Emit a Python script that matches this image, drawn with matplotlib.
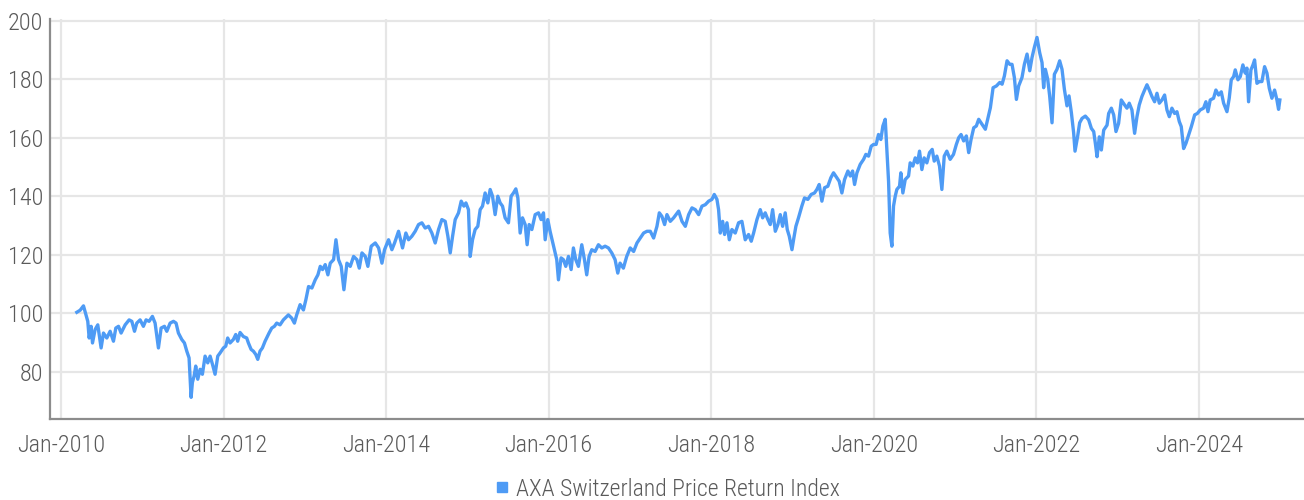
#!/usr/bin/env python3

import pandas as pd
import matplotlib
matplotlib.use('Agg')
import matplotlib.pyplot as plt
import matplotlib.dates as mdates
from matplotlib.lines import Line2D

# dates as decimal years, index level
dec_years = [
    2010.193, 2010.234, 2010.275, 2010.295, 2010.328, 2010.345, 2010.369, 2010.386, 2010.418, 2010.451,
    2010.492, 2010.521, 2010.562, 2010.603, 2010.644, 2010.673, 2010.706, 2010.738, 2010.788, 2010.837,
    2010.870, 2010.903, 2010.931, 2010.972, 2011.013, 2011.046, 2011.083, 2011.124, 2011.157, 2011.198,
    2011.231, 2011.272, 2011.301, 2011.342, 2011.383, 2011.415, 2011.444, 2011.485, 2011.518, 2011.547,
    2011.575, 2011.600, 2011.616, 2011.637, 2011.657, 2011.682, 2011.711, 2011.739, 2011.772, 2011.805,
    2011.834, 2011.863, 2011.895, 2011.928, 2011.957, 2011.998, 2012.027, 2012.051, 2012.080, 2012.121,
    2012.150, 2012.174, 2012.203, 2012.244, 2012.285, 2012.306, 2012.339, 2012.367, 2012.396, 2012.421,
    2012.449, 2012.478, 2012.511, 2012.560, 2012.593, 2012.626, 2012.654, 2012.695, 2012.736, 2012.798,
    2012.839, 2012.872, 2012.900, 2012.942, 2012.983, 2013.011, 2013.044, 2013.085, 2013.126, 2013.159,
    2013.188, 2013.216, 2013.249, 2013.282, 2013.311, 2013.352, 2013.381, 2013.413, 2013.446, 2013.479,
    2013.516, 2013.557, 2013.598, 2013.639, 2013.668, 2013.701, 2013.742, 2013.774, 2013.815, 2013.865,
    2013.906, 2013.947, 2013.979, 2014.029, 2014.070, 2014.103, 2014.152, 2014.201, 2014.242, 2014.275,
    2014.316, 2014.357, 2014.398, 2014.439, 2014.480, 2014.521, 2014.562, 2014.603, 2014.644, 2014.685,
    2014.726, 2014.759, 2014.788, 2014.817, 2014.849, 2014.890, 2014.923, 2014.956, 2014.981, 2015.013,
    2015.034, 2015.063, 2015.095, 2015.128, 2015.157, 2015.186, 2015.218, 2015.251, 2015.280, 2015.309,
    2015.341, 2015.374, 2015.403, 2015.432, 2015.464, 2015.505, 2015.538, 2015.567, 2015.596, 2015.621,
    2015.649, 2015.678, 2015.711, 2015.735, 2015.760, 2015.793, 2015.834, 2015.875, 2015.907, 2015.936,
    2015.957, 2015.989, 2016.018, 2016.047, 2016.071, 2016.100, 2016.121, 2016.153, 2016.182, 2016.211,
    2016.244, 2016.277, 2016.305, 2016.334, 2016.367, 2016.408, 2016.441, 2016.469, 2016.498, 2016.531,
    2016.572, 2016.613, 2016.654, 2016.695, 2016.736, 2016.777, 2016.818, 2016.851, 2016.879, 2016.920,
    2016.961, 2017.002, 2017.044, 2017.085, 2017.126, 2017.167, 2017.208, 2017.249, 2017.290, 2017.331,
    2017.360, 2017.392, 2017.425, 2017.454, 2017.495, 2017.536, 2017.598, 2017.639, 2017.680, 2017.721,
    2017.762, 2017.803, 2017.844, 2017.885, 2017.926, 2017.967, 2018.008, 2018.037, 2018.070, 2018.090,
    2018.111, 2018.140, 2018.164, 2018.193, 2018.222, 2018.254, 2018.295, 2018.336, 2018.377, 2018.418,
    2018.459, 2018.492, 2018.521, 2018.562, 2018.603, 2018.632, 2018.664, 2018.697, 2018.726, 2018.755,
    2018.788, 2018.820, 2018.849, 2018.878, 2018.910, 2018.935, 2018.960, 2018.993, 2019.017, 2019.042,
    2019.074, 2019.115, 2019.148, 2019.189, 2019.230, 2019.271, 2019.300, 2019.329, 2019.362, 2019.395,
    2019.435, 2019.472, 2019.505, 2019.546, 2019.575, 2019.608, 2019.641, 2019.682, 2019.711, 2019.740,
    2019.764, 2019.793, 2019.834, 2019.875, 2019.903, 2019.936, 2019.969, 2019.998, 2020.030, 2020.059,
    2020.088, 2020.113, 2020.142, 2020.170, 2020.183, 2020.203, 2020.224, 2020.244, 2020.265, 2020.285,
    2020.318, 2020.334, 2020.359, 2020.388, 2020.429, 2020.449, 2020.482, 2020.511, 2020.539, 2020.564,
    2020.593, 2020.621, 2020.654, 2020.687, 2020.720, 2020.745, 2020.777, 2020.810, 2020.839, 2020.868,
    2020.900, 2020.941, 2020.982, 2021.015, 2021.044, 2021.073, 2021.105, 2021.138, 2021.167, 2021.196,
    2021.229, 2021.261, 2021.290, 2021.331, 2021.372, 2021.401, 2021.434, 2021.467, 2021.508, 2021.549,
    2021.578, 2021.606, 2021.639, 2021.672, 2021.700, 2021.729, 2021.754, 2021.782, 2021.823, 2021.852,
    2021.885, 2021.918, 2021.946, 2021.975, 2022.008, 2022.041, 2022.070, 2022.090, 2022.111, 2022.140,
    2022.164, 2022.193, 2022.222, 2022.254, 2022.287, 2022.316, 2022.345, 2022.377, 2022.402, 2022.431,
    2022.459, 2022.476, 2022.509, 2022.533, 2022.562, 2022.603, 2022.644, 2022.677, 2022.706, 2022.726,
    2022.747, 2022.775, 2022.800, 2022.829, 2022.870, 2022.890, 2022.923, 2022.952, 2022.980, 2023.013,
    2023.046, 2023.087, 2023.116, 2023.144, 2023.177, 2023.210, 2023.239, 2023.267, 2023.300, 2023.333,
    2023.362, 2023.391, 2023.423, 2023.456, 2023.485, 2023.514, 2023.546, 2023.579, 2023.608, 2023.637,
    2023.669, 2023.702, 2023.731, 2023.760, 2023.784, 2023.813, 2023.842, 2023.875, 2023.908, 2023.949,
    2023.982, 2024.018, 2024.059, 2024.088, 2024.113, 2024.141, 2024.182, 2024.211, 2024.244, 2024.277,
    2024.306, 2024.347, 2024.375, 2024.400, 2024.429, 2024.449, 2024.482, 2024.511, 2024.543, 2024.572,
    2024.593, 2024.613, 2024.642, 2024.667, 2024.687, 2024.716, 2024.745, 2024.777, 2024.810, 2024.839,
    2024.868, 2024.900, 2024.933, 2024.962, 2024.982, 2024.998,
]

index_values = [
    100.3, 101.0, 102.5, 100.5, 97.2, 91.5, 95.5, 89.8, 94.4, 96.0,
    88.1, 93.2, 91.5, 93.8, 90.4, 94.9, 95.5, 93.2, 96.0, 97.7,
    97.2, 93.8, 96.6, 97.7, 95.5, 97.7, 97.2, 98.9, 96.6, 88.1,
    94.9, 95.5, 93.8, 96.6, 97.2, 96.6, 93.2, 91.0, 89.8, 87.0,
    84.7, 71.2, 76.3, 78.5, 81.9, 77.4, 80.8, 79.1, 85.3, 83.0,
    85.3, 82.5, 79.1, 85.3, 86.4, 88.1, 88.7, 91.5, 89.8, 91.0,
    92.7, 90.4, 93.4, 92.0, 91.5, 89.8, 87.6, 87.0, 85.9, 84.2,
    87.0, 88.1, 90.4, 93.2, 94.9, 95.5, 96.6, 96.0, 97.7, 99.4,
    98.3, 96.6, 99.4, 102.9, 101.1, 104.6, 109.1, 108.6, 111.4, 113.1,
    116.0, 114.9, 116.6, 113.1, 117.1, 118.3, 125.1, 118.3, 116.0, 108.0,
    117.1, 116.0, 119.4, 118.3, 115.4, 120.6, 119.4, 116.0, 122.9, 124.0,
    122.3, 117.1, 121.7, 125.1, 121.7, 124.0, 128.0, 122.3, 127.4, 125.1,
    126.3, 128.0, 130.3, 130.9, 129.1, 129.7, 127.4, 124.0, 128.6, 132.0,
    131.4, 126.3, 120.6, 126.3, 132.0, 134.3, 138.3, 136.6, 137.7, 135.4,
    119.4, 125.1, 128.6, 129.7, 135.4, 136.6, 141.1, 137.7, 142.3, 140.0,
    133.7, 140.0, 137.7, 136.6, 132.6, 130.9, 140.0, 141.1, 142.5, 139.4,
    127.4, 132.6, 130.3, 123.4, 130.3, 128.6, 133.7, 134.3, 132.0, 134.3,
    125.1, 132.0, 128.0, 124.6, 121.7, 118.3, 111.4, 118.9, 118.3, 116.0,
    119.4, 114.9, 122.3, 118.3, 116.0, 123.4, 118.3, 113.1, 119.4, 121.7,
    121.1, 123.4, 122.3, 122.9, 122.3, 120.6, 118.3, 113.7, 117.1, 115.4,
    119.4, 122.3, 121.1, 124.0, 125.7, 127.4, 128.0, 128.0, 125.7, 129.7,
    134.3, 133.1, 130.3, 133.7, 131.4, 132.6, 134.9, 131.4, 129.7, 133.7,
    136.0, 135.4, 133.7, 136.6, 137.1, 138.3, 138.9, 140.6, 138.9, 135.4,
    127.4, 131.4, 126.9, 130.9, 125.1, 128.6, 127.4, 130.9, 131.4, 125.1,
    126.9, 124.6, 127.4, 132.0, 135.4, 132.6, 134.3, 132.0, 130.3, 135.4,
    128.0, 130.3, 133.7, 129.7, 134.3, 128.6, 126.3, 121.7, 125.7, 129.7,
    132.6, 136.6, 139.4, 138.9, 140.6, 141.1, 142.3, 144.0, 138.3, 142.9,
    143.4, 146.3, 148.0, 146.3, 145.1, 141.1, 145.7, 148.6, 146.9, 148.6,
    144.0, 148.0, 150.9, 152.6, 154.3, 153.7, 157.1, 157.7, 157.7, 161.1,
    159.4, 164.0, 166.3, 151.4, 145.1, 127.4, 122.9, 136.6, 140.0, 142.3,
    143.4, 148.0, 141.1, 145.7, 146.9, 151.4, 150.3, 153.1, 151.4, 155.4,
    149.1, 153.1, 151.4, 154.9, 156.0, 152.0, 153.7, 150.3, 142.3, 153.7,
    155.4, 152.6, 154.3, 157.7, 160.0, 161.1, 158.9, 160.6, 154.9, 159.4,
    163.4, 164.0, 166.3, 164.6, 162.9, 166.3, 170.3, 177.1, 177.7, 178.9,
    178.3, 181.1, 186.3, 185.1, 185.1, 180.6, 173.1, 177.7, 180.6, 185.1,
    188.6, 182.9, 187.4, 190.9, 194.3, 189.1, 185.7, 177.1, 183.4, 180.0,
    174.3, 165.1, 181.7, 183.4, 186.3, 183.4, 176.6, 170.9, 174.3, 168.6,
    161.7, 155.4, 160.6, 165.1, 166.6, 167.4, 166.1, 163.2, 162.1, 158.1,
    153.5, 160.3, 155.8, 162.6, 164.3, 168.3, 170.1, 167.8, 162.1, 164.9,
    172.9, 171.2, 170.1, 171.8, 169.5, 161.5, 167.2, 171.2, 174.1, 176.3,
    178.1, 176.3, 174.1, 172.3, 175.2, 171.8, 172.9, 174.6, 169.5, 167.2,
    170.1, 168.3, 168.9, 165.5, 163.8, 156.3, 158.1, 160.9, 163.8, 167.8,
    168.3, 169.5, 170.1, 172.3, 168.9, 172.9, 173.5, 176.3, 174.6, 175.7,
    171.8, 168.9, 173.5, 179.8, 180.9, 183.2, 179.8, 180.9, 184.9, 182.1,
    183.8, 172.3, 183.2, 184.9, 186.6, 178.6, 179.2, 179.2, 184.3, 182.1,
    176.9, 173.5, 176.3, 172.9, 169.7, 172.9,
]

series_name = 'AXA Switzerland Price Return Index'
tick_years = [2010, 2012, 2014, 2016, 2018, 2020, 2022, 2024]
y_ticks = [80, 100, 120, 140, 160, 180, 200]


def to_dates(years):
    out = []
    for y in years:
        yr = int(y)
        out.append(pd.Timestamp(yr, 1, 1) + pd.Timedelta(days=(y - yr) * 365.25))
    return out


LINE_COLOR = '#4E9BF5'
TEXT_COLOR = '#5a5a5a'
GRID_COLOR = '#e6e6e6'

# narrow face if one is there, otherwise DejaVu
plt.rcParams['font.family'] = ['Roboto Condensed', 'Noto Sans Condensed', 'DejaVu Sans']
plt.rcParams['font.stretch'] = 'condensed'
plt.rcParams['font.weight'] = 'light'

dates = to_dates(dec_years)

fig = plt.figure(figsize=(13.04, 5.0), dpi=100)
ax = fig.add_axes([50 / 1304, 1 - 419 / 500, 1 - 50 / 1304, (419 - 19) / 500])

ax.plot(dates, index_values, color=LINE_COLOR, linewidth=2.4, solid_joinstyle='round')

ax.set_xlim(pd.Timestamp(2009, 11, 12), pd.Timestamp(2025, 4, 18))
ax.set_ylim(63.8, 200.6)

tick_dates = [pd.Timestamp(y, 1, 1) for y in tick_years]
ax.set_xticks(tick_dates)
ax.xaxis.set_major_formatter(mdates.DateFormatter('%b-%Y'))
ax.set_yticks(y_ticks)

ax.grid(True, color=GRID_COLOR, linewidth=1.6)
ax.set_axisbelow(True)
ax.tick_params(axis='both', length=0, labelsize=17.5, labelcolor=TEXT_COLOR)
ax.tick_params(axis='x', pad=11)
ax.tick_params(axis='y', pad=5)

for side in ['top', 'right']:
    ax.spines[side].set_visible(False)
for side in ['left', 'bottom']:
    ax.spines[side].set_color('#8c8c8c')
    ax.spines[side].set_linewidth(1.6)

handle = Line2D([], [], linestyle='none', marker='s', markersize=7,
                markerfacecolor=LINE_COLOR, markeredgecolor=LINE_COLOR)
fig.legend([handle], [series_name], loc='center', bbox_to_anchor=(667 / 1304, 1 - 489 / 500),
           frameon=False, fontsize=17, labelcolor=TEXT_COLOR,
           handlelength=0.6, handletextpad=0.3, borderpad=0)

fig.savefig('out.png', dpi=100)
plt.close(fig)
